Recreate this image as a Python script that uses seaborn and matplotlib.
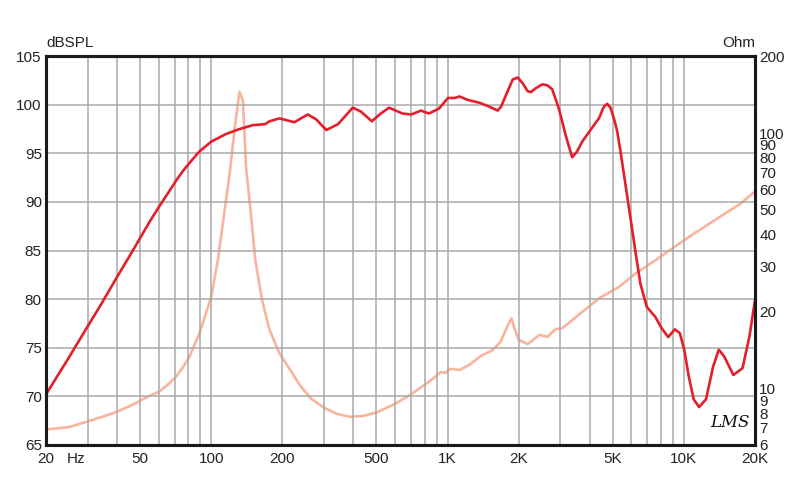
import numpy as np
import matplotlib
matplotlib.use("Agg")
import matplotlib.pyplot as plt
import seaborn as sns

# SPL response (red)
spl_freq = [20, 25, 30, 33.7, 40, 46.6, 55, 60.5, 66, 71.1, 76, 80.9, 89.2, 100, 115.7, 131.8,
            150, 169, 176.6, 194.5, 225, 256, 278, 307, 344, 397, 430, 478, 522, 566, 644,
            703, 772, 834, 920, 1005, 1072, 1124, 1218, 1366, 1504, 1630, 1685, 1768, 1888,
            1981, 2080, 2183, 2253, 2364, 2520, 2644, 2773, 2959, 3158, 3368, 3535, 3712,
            4025, 4370, 4587, 4737, 4893, 5058, 5220, 5395, 5660, 5940, 6230, 6545, 6970,
            7560, 8060, 8590, 9160, 9620, 10040, 10500, 11010, 11600, 12410, 13310, 14060,
            14820, 16190, 17710, 18960, 20000]
spl_db = [70.2, 74.0, 77.2, 79.2, 82.3, 85.0, 88.0, 89.6, 91.0, 92.2, 93.2, 94.0, 95.2, 96.2, 97.0, 97.5,
          97.9, 98.0, 98.3, 98.6, 98.2, 99.0, 98.5, 97.4, 98.0, 99.7, 99.3, 98.3, 99.1, 99.7, 99.1,
          99.0, 99.4, 99.1, 99.6, 100.7, 100.7, 100.85, 100.5, 100.2, 99.8, 99.4, 99.8, 101.0, 102.6,
          102.8, 102.2, 101.4, 101.3, 101.7, 102.1, 102.0, 101.6, 99.6, 96.9, 94.6, 95.2, 96.2,
          97.4, 98.6, 99.8, 100.1, 99.7, 98.6, 97.3, 95.2, 91.8, 88.4, 85.0, 81.6, 79.2,
          78.2, 77.0, 76.1, 76.9, 76.5, 74.8, 72.0, 69.7, 68.9, 69.7, 73.1, 74.8,
          74.1, 72.2, 72.9, 76.2, 79.9]

# impedance (salmon)
imp_freq = [20, 25, 33.7, 40, 46.6, 53, 60.5, 66, 71.1, 76, 80.9, 89.2, 100, 106.7, 113.9, 119.6,
            125.8, 130, 131.7, 134, 136.3, 140.5, 146.8, 153.7, 164, 176.3, 194.5, 216, 237,
            265, 300, 340, 386, 440, 502, 600, 695, 838, 936, 981, 1027, 1124, 1237, 1385, 1547,
            1677, 1786, 1864, 1924, 2000, 2183, 2450, 2644, 2868, 3060, 3636, 4370, 5296, 6230,
            7560, 9730, 11240, 14060, 17260, 20000]
imp_ohm = [6.9, 7.05, 7.67, 8.1, 8.64, 9.2, 9.73, 10.4, 11.13, 12.1, 13.3, 16.4, 22.8, 31.7, 49.6, 68.9,
           104.6, 132.9, 145, 140, 133, 73.1, 49.6, 31.7, 22.3, 17.0, 13.7, 11.8, 10.3,
           9.1, 8.4, 7.95, 7.73, 7.8, 8.05, 8.7, 9.42, 10.64, 11.57, 11.5, 11.92, 11.8, 12.36, 13.4, 14.1,
           15.2, 17.4, 18.8, 17.1, 15.5, 14.9, 16.2, 15.9, 17.06, 17.2, 19.6, 22.5, 24.9, 28.1,
           31.7, 37.3, 40.8, 46.7, 52.7, 59.0]

grid_freqs = [20, 30, 40, 50, 60, 70, 80, 90, 100, 200, 300, 400, 500, 600, 700, 800, 900,
              1000, 2000, 3000, 4000, 5000, 6000, 7000, 8000, 9000, 10000, 20000]
freq_labels = {20: "20", 50: "50", 100: "100", 200: "200", 500: "500", 1000: "1K",
               2000: "2K", 5000: "5K", 10000: "10K", 20000: "20K"}
db_ticks = [65, 70, 75, 80, 85, 90, 95, 100, 105]
ohm_ticks = [6, 7, 8, 9, 10, 20, 30, 40, 50, 60, 70, 80, 90, 100, 200]

sns.set_style("white")
plt.rcParams['font.family'] = ['Liberation Sans', 'DejaVu Sans']

fig = plt.figure(figsize=(8, 4.84), dpi=100)
ax = fig.add_axes([0.0575, 0.0806, 0.88625, 0.8034])
ax2 = ax.twinx()

red = "#e41e2b"
salmon = "#f8b49c"
gridc = "#a9a9a9"

sns.lineplot(x=imp_freq, y=imp_ohm, ax=ax2, color=salmon, linewidth=1.9)
sns.lineplot(x=spl_freq, y=spl_db, ax=ax, color=red, linewidth=1.9)

ax.set_zorder(ax2.get_zorder() + 1)
ax.patch.set_visible(False)

ax.set_xscale("log")
ax.set_xlim(20, 20000)
ax.set_ylim(65, 105)
ax.set_xticks(grid_freqs)
ax.set_xticklabels([freq_labels.get(f, "") for f in grid_freqs])
ax.xaxis.set_minor_locator(matplotlib.ticker.NullLocator())
ax.set_yticks(db_ticks)
ax.set_yticklabels([str(v) for v in db_ticks])

ax2.set_yscale("log")
ax2.set_ylim(6, 200)
ax2.set_yticks(ohm_ticks)
ax2.set_yticklabels([str(v) for v in ohm_ticks])
ax2.yaxis.set_minor_locator(matplotlib.ticker.NullLocator())

ax.grid(True, color=gridc, linewidth=1.1)
ax2.grid(False)

ax.tick_params(axis="both", length=0, labelsize=11, colors="#222222", pad=3)
ax.tick_params(axis="x", pad=5)
ax2.tick_params(axis="y", length=0, labelsize=11, colors="#222222", pad=3)

for a in (ax, ax2):
    for s in a.spines.values():
        s.set_visible(True)
        s.set_color("#1a1a1a")
        s.set_linewidth(2.2)

ax.set_xlabel("")
ax.set_ylabel("")
ax2.set_ylabel("")

ax.annotate("Hz", xy=(26.8, 0), xycoords=("data", "axes fraction"),
            xytext=(0, -5), textcoords="offset points", ha="center", va="top",
            fontsize=11, color="#222222")
ax.text(0.0, 1.015, "dBSPL", transform=ax.transAxes, ha="left", va="bottom",
        fontsize=11, color="#222222")
ax.text(1.0, 1.015, "Ohm", transform=ax.transAxes, ha="right", va="bottom",
        fontsize=11, color="#222222")
ax.text(0.965, 0.035, "LMS", transform=ax.transAxes, ha="center", va="bottom",
        fontsize=12, style="italic", color="#111111", family="DejaVu Serif")

plt.savefig("out.png", dpi=100)
